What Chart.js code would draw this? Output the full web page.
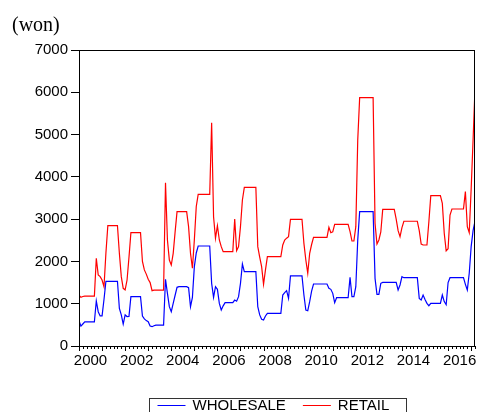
<!DOCTYPE html>
<html>
<head>
<meta charset="utf-8">
<script src="https://cdn.jsdelivr.net/npm/chart.js@4/dist/chart.umd.min.js"></script>
<style>
  html,body{margin:0;padding:0;background:#fff}
  #wrap{position:relative;width:479px;height:412px}
</style>
</head>
<body>
<div id="wrap"><canvas id="priceChart"></canvas></div>
<script>
// monthly prices, first observation 2000M01
const startYear=2000;
const wholesale=[
  600,470,520,570,570,570,570,570,570,1064,811,712,
  712,1100,1530,1530,1530,1530,1530,1530,1530,891,735,520,
  735,696,700,1166,1166,1166,1166,1166,1166,710,640,600,
  575,473,457,480,495,495,495,495,495,1577,1246,930,
  811,1008,1200,1388,1403,1403,1403,1403,1403,1380,930,1150,
  1876,2200,2365,2365,2365,2365,2365,2365,2365,1482,1150,1403,
  1340,1008,851,950,1024,1024,1024,1024,1024,1087,1060,1166,
  1482,1939,1758,1758,1758,1758,1758,1758,1758,930,735,631,
  615,710,772,772,772,772,772,772,772,772,1206,1261,
  1308,1127,1656,1656,1656,1656,1656,1656,1656,1206,851,835,
  1048,1300,1466,1466,1466,1466,1466,1466,1466,1466,1364,1340,
  1245,1024,1142,1142,1142,1142,1142,1142,1142,1624,1166,1166,
  1403,2507,3176,3176,3176,3176,3176,3176,3176,3176,1600,1222,
  1222,1482,1505,1505,1505,1505,1505,1505,1505,1505,1324,1443,
  1640,1616,1616,1616,1616,1616,1616,1616,1616,1127,1087,1206,
  1100,1008,953,1008,1008,1008,1008,1008,1008,1206,1050,976,
  1500,1616,1616,1616,1616,1616,1616,1616,1616,1458,1324,1719,
  2350,2728,2956
];
const retail=[
  1206,1150,1170,1180,1180,1180,1180,1180,1180,2074,1680,1640,
  1560,1403,2200,2846,2846,2846,2846,2846,2846,2192,1640,1364,
  1325,1560,2100,2680,2680,2680,2680,2680,2680,2000,1800,1700,
  1577,1500,1308,1320,1320,1320,1320,1320,1320,3862,2507,2034,
  1916,2192,2700,3176,3176,3176,3176,3176,3176,2822,2192,1838,
  2507,3300,3587,3587,3587,3587,3587,3587,3587,5282,3058,2547,
  2846,2507,2350,2231,2231,2231,2231,2231,2231,3004,2255,2350,
  2822,3453,3753,3753,3753,3753,3753,3753,3753,2350,2100,1876,
  1459,1800,2113,2113,2113,2113,2113,2113,2113,2113,2389,2507,
  2550,2586,2996,2996,2996,2996,2996,2996,2996,2428,2034,1719,
  2192,2400,2570,2570,2570,2570,2570,2570,2570,2570,2806,2680,
  2700,2877,2877,2877,2877,2877,2877,2877,2877,2704,2483,2483,
  2822,4872,5872,5872,5872,5872,5872,5872,5872,5872,2900,2412,
  2507,2700,3230,3230,3230,3230,3230,3230,3230,3000,2728,2586,
  2800,2950,2950,2950,2950,2950,2950,2950,2950,2728,2412,2389,
  2389,2389,2940,3555,3555,3555,3555,3555,3555,3373,2665,2250,
  2300,3098,3240,3240,3240,3240,3240,3240,3240,3650,2822,2680,
  3713,4872,6094
];
const yearLabels=[2000,2002,2004,2006,2008,2010,2012,2014,2016];
const yTicks=[0,1000,2000,3000,4000,5000,6000,7000];
const seriesNames=['WHOLESALE','RETAIL'];
const seriesColors=['#0000ff','#ff0000'];

const FONT='"Liberation Sans", Arial, sans-serif';
const toPts=arr=>arr.map((v,i)=>({x:startYear+i/12,y:v}));
const lastX=startYear+(retail.length-1)/12;

// frame, x tick marks, unit label and boxed legend (EViews look)
const evFrame={id:'evFrame',afterDraw(chart){
  const {ctx,chartArea:a,scales:{x}}=chart;
  ctx.save();
  ctx.strokeStyle='#000';ctx.lineWidth=1;
  ctx.strokeRect(Math.round(a.left)+0.5,Math.round(a.top)+0.5,Math.round(a.right-a.left)-1,Math.round(a.bottom-a.top));
  x.ticks.forEach(t=>{
    const px=Math.round(x.getPixelForValue(t.value))+0.5;
    const yr=Math.abs(t.value-Math.round(t.value))<1e-6;
    ctx.beginPath();ctx.moveTo(px,Math.round(a.bottom));ctx.lineTo(px,Math.round(a.bottom)+(yr?5:3));ctx.stroke();
  });
  ctx.fillStyle='#000';ctx.font='20px "Liberation Serif", "Times New Roman", serif';
  ctx.textBaseline='alphabetic';ctx.textAlign='left';
  ctx.fillText('(won)',12,31);
  // legend
  const cx=(a.left+a.right)/2, bw=257, by=398;
  ctx.strokeStyle='#333';
  ctx.strokeRect(Math.round(cx-bw/2)+0.5,by+0.5,bw,20);
  ctx.font='15px '+FONT;ctx.textBaseline='middle';
  let lx=cx-bw/2+9;
  chart.data.datasets.forEach(ds=>{
    ctx.strokeStyle=ds.borderColor;ctx.lineWidth=1;
    ctx.beginPath();ctx.moveTo(lx,by+7.5);ctx.lineTo(lx+28,by+7.5);ctx.stroke();
    ctx.fillStyle='#000';ctx.fillText(ds.label,lx+35,by+8);
    lx+=35+ctx.measureText(ds.label).width+17;
  });
  ctx.restore();
}};

new Chart(document.getElementById('priceChart'),{type:'line',
  data:{datasets:[
    {label:seriesNames[0],data:toPts(wholesale),borderColor:seriesColors[0],borderWidth:1.2,pointRadius:0,tension:0,fill:false},
    {label:seriesNames[1],data:toPts(retail),borderColor:seriesColors[1],borderWidth:1.2,pointRadius:0,tension:0,fill:false}
  ]},
  options:{responsive:true,maintainAspectRatio:false,animation:false,
    layout:{padding:{top:50,right:4,bottom:36,left:0}},
    plugins:{legend:{display:false},tooltip:{enabled:false}},
    scales:{
      x:{type:'linear',min:startYear,max:lastX,
        afterBuildTicks:s=>{const t=[];for(let m=0;m<=retail.length-1;m+=2)t.push({value:startYear+m/12});s.ticks=t;},
        afterFit:s=>{s.height=30;},
        grid:{display:false,drawTicks:true,tickLength:5},border:{display:false},
        ticks:{autoSkip:false,maxRotation:0,minRotation:0,padding:1,labelOffset:11.5,color:'#000',font:{family:FONT,size:15},
          callback:v=>{const r=Math.round(v);return Math.abs(v-r)<1e-6&&yearLabels.includes(r)?String(r):'';}}},
      y:{min:0,max:7000,
        afterBuildTicks:s=>{s.ticks=yTicks.map(v=>({value:v}));},
        afterFit:s=>{s.width=79;},
        grid:{drawOnChartArea:false,drawTicks:true,tickLength:8,color:'#000'},border:{display:false},
        ticks:{padding:3,color:'#000',font:{family:FONT,size:15},callback:v=>String(v)}}
    }},
  plugins:[evFrame]
});
</script>
</body>
</html>
